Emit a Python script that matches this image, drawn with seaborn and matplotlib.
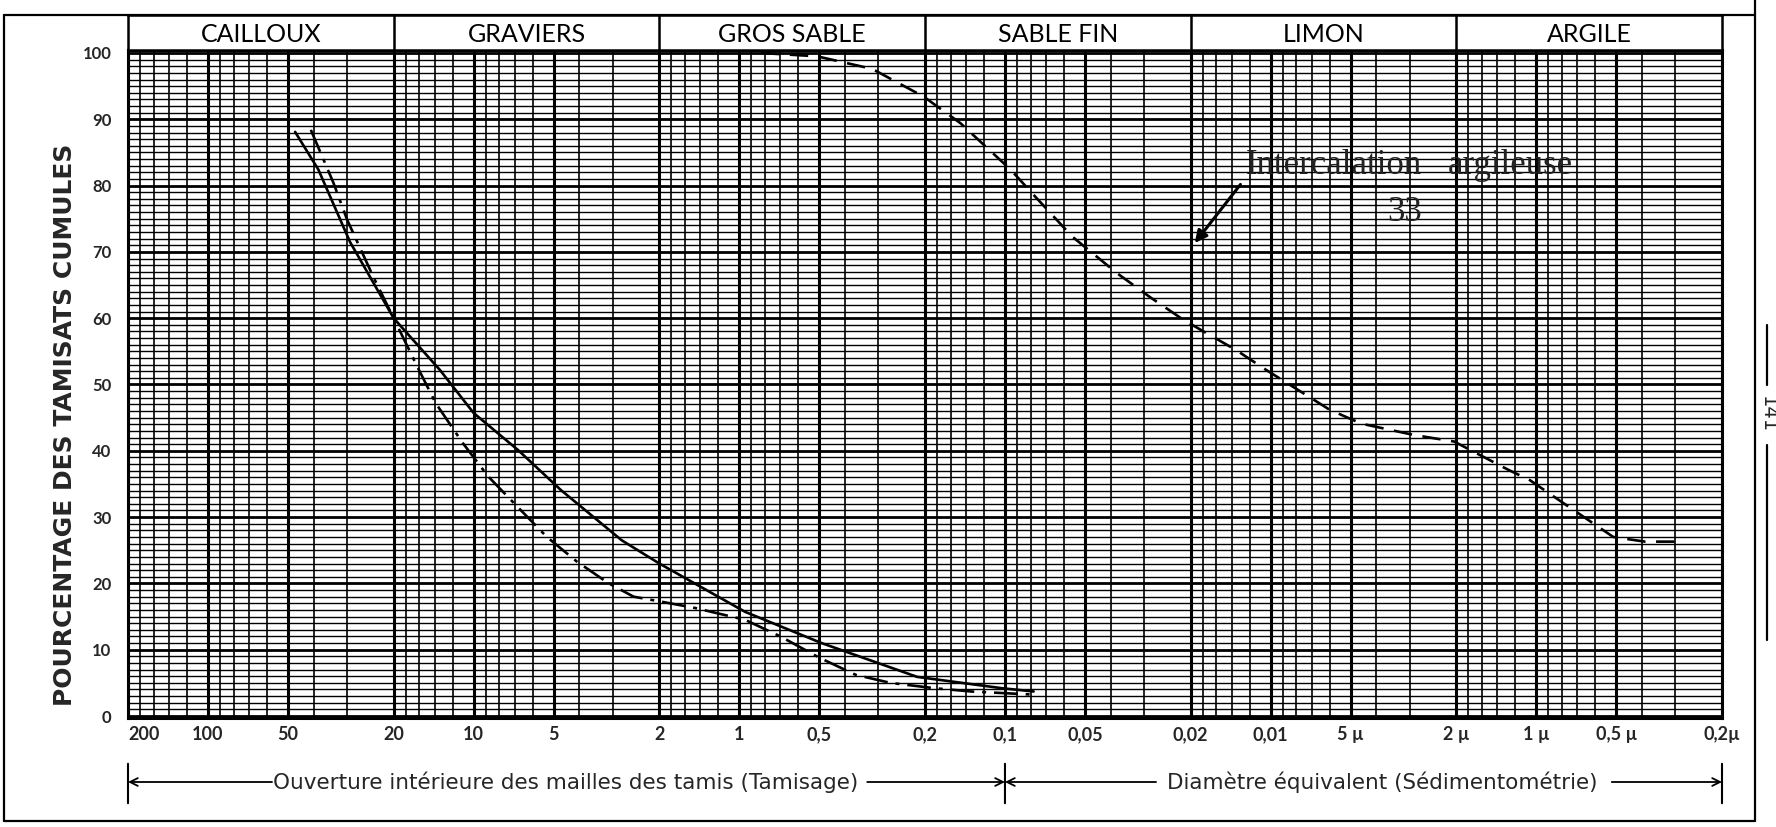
import matplotlib
matplotlib.use("Agg")
import matplotlib.pyplot as plt
import seaborn as sns
import pandas as pd
from matplotlib.lines import Line2D
from matplotlib.ticker import NullFormatter

# classes granulométriques (bandeau du haut), bornes en mm
classes = ["CAILLOUX", "GRAVIERS", "GROS SABLE", "SABLE FIN", "LIMON", "ARGILE"]
class_bounds = [200, 20, 2, 0.2, 0.02, 0.002, 0.0002]

# graduations de l'axe des diamètres (mm)
x_ticks = [200, 100, 50, 20, 10, 5, 2, 1, 0.5, 0.2, 0.1, 0.05, 0.02, 0.01,
           0.005, 0.002, 0.001, 0.0005, 0.0002]
x_labels = ["200", "100", "50", "20", "10", "5", "2", "1", "0,5", "0,2", "0,1",
            "0,05", "0,02", "0,01", "5 µ", "2 µ", "1 µ", "0,5 µ", "0,2µ"]
y_ticks = [0, 10, 20, 30, 40, 50, 60, 70, 80, 90, 100]

# courbe en trait plein
solid_d = [47, 38.4, 29.2, 20, 13.4, 10.0, 6.8, 4.7, 2.77, 2.0, 0.95, 0.49,
           0.214, 0.103, 0.078]
solid_p = [88.1, 82.4, 71.5, 60.0, 52.2, 45.7, 40.1, 34.1, 26.5, 23.0, 15.7,
           11.0, 5.9, 4.2, 3.7]

# courbe en trait mixte
dashdot_d = [41, 33.7, 29.9, 23.9, 20, 16.3, 13.9, 11.0, 8.8, 6.78, 5.3, 4.09,
             3.1, 2.5, 2.0, 1.47, 0.95, 0.70, 0.50, 0.364, 0.270, 0.185, 0.134,
             0.076]
dashdot_p = [88.4, 80.4, 74.8, 66.3, 60.0, 52.7, 47.2, 41.2, 36.1, 31.4, 27.0,
             23.3, 20.0, 18.0, 17.3, 16.3, 14.5, 12.0, 8.8, 6.2, 5.0, 4.2, 3.7,
             3.2]

# intercalation argileuse 33 (tirets)
dashed_d = [0.83, 0.51, 0.316, 0.202, 0.147, 0.0952, 0.0768, 0.0558, 0.0379,
            0.0285, 0.0212, 0.0135, 0.0104, 0.0060, 0.00456, 0.0029, 0.00204,
            0.00127, 0.00106, 0.00079, 0.000513, 0.00039, 0.00029]
dashed_p = [100, 99.5, 97.6, 93.4, 89.4, 82.4, 78.3, 72.3, 66.8, 63.2, 59.7,
            55.2, 52.2, 46.2, 44.1, 42.4, 41.4, 37.1, 35.6, 32.1, 27.0, 26.3,
            26.3]


def main():
    sns.set_style("white")
    plt.rcParams["font.family"] = ["Lato", "DejaVu Sans"]

    W, H = 1776, 827
    fig = plt.figure(figsize=(W / 100, H / 100), dpi=100)

    left, right, top, bottom = 128, 1722, 50, 718
    ax = fig.add_axes([left / W, 1 - bottom / H, (right - left) / W, (bottom - top) / H])
    hax = fig.add_axes([left / W, 1 - top / H, (right - left) / W, 35 / H])

    # grille
    ax.set_xscale("log")
    ax.set_xlim(class_bounds[0], class_bounds[-1])
    ax.set_ylim(-0.3, 100.45)
    minor_x = [m * 10.0 ** e for e in range(-4, 3)
               for m in (1.2, 1.4, 1.6, 1.8, 3, 4, 6, 7, 8, 9)
               if 0.0002 <= m * 10.0 ** e <= 200]

    # courbes
    curves = [
        (solid_d, solid_p, "-"),
        (dashdot_d, dashdot_p, (0, (9, 3, 1.5, 3))),
        (dashed_d, dashed_p, (0, (7, 4))),
    ]
    for d, p, ls in curves:
        df = pd.DataFrame({"d": d, "p": p})
        sns.lineplot(data=df, x="d", y="p", ax=ax, color="black", lw=1.9,
                     linestyle=ls, sort=False, legend=False)

    ax.set_xlim(class_bounds[0], class_bounds[-1])
    ax.set_xticks(x_ticks)
    ax.set_xticks(minor_x, minor=True)
    ax.set_xticklabels(x_labels)
    ax.xaxis.set_minor_formatter(NullFormatter())
    ax.set_yticks(y_ticks)
    ax.set_yticks(range(0, 101), minor=True)
    ax.yaxis.set_minor_formatter(NullFormatter())
    ax.grid(which="major", axis="x", color="black", lw=2.2)
    ax.grid(which="minor", axis="x", color="black", lw=1.2)
    ax.grid(which="major", axis="y", color="black", lw=2.0)
    ax.grid(which="minor", axis="y", color="black", lw=1.0)
    ax.set_axisbelow(True)
    ax.tick_params(which="both", length=0)
    ax.tick_params(axis="x", pad=6, labelsize=13)
    ax.tick_params(axis="y", pad=12, labelsize=12)
    for lab in ax.get_xticklabels() + ax.get_yticklabels():
        lab.set_fontweight("bold")
    ax.get_xticklabels()[0].set_horizontalalignment("left")
    for sp in ax.spines.values():
        sp.set_color("black")
        sp.set_linewidth(2.2)
    ax.set_xlabel("")
    ax.set_ylabel("")

    # annotation
    serif = dict(family="Liberation Serif", fontsize=25, va="center",
                 color="#222222")
    ax.text(0.01236, 83.0, "Intercalation", ha="left", **serif)
    ax.text(0.00215, 83.0, "argileuse", ha="left", **serif)
    ax.text(0.00313, 76.0, "33", ha="center", **serif)
    ax.annotate("", xy=(0.0196, 71.0), xytext=(0.0128, 80.5),
                arrowprops=dict(arrowstyle="-|>", color="black", lw=2.2,
                                mutation_scale=18))

    # bandeau des classes
    hax.set_xscale("log")
    hax.set_xlim(class_bounds[0], class_bounds[-1])
    hax.set_ylim(0, 1)
    hax.set_xticks([])
    hax.set_yticks([])
    for b in class_bounds[1:-1]:
        hax.axvline(b, color="black", lw=1.8)
    for name, a, b in zip(classes, class_bounds[:-1], class_bounds[1:]):
        hax.text((a * b) ** 0.5, 0.45, name, ha="center", va="center",
                 fontsize=18, color="black")
    for sp in hax.spines.values():
        sp.set_color("black")
        sp.set_linewidth(1.8)

    # titre de l'axe vertical
    fig.text(65 / W, 1 - 425 / H, "POURCENTAGE DES TAMISATS CUMULES",
             family="DejaVu Sans", fontweight="bold", fontsize=18,
             rotation=90, ha="center", va="center")

    # flèches du bas
    yc = 1 - 782 / H
    y0, y1 = 1 - 806 / H, 1 - 761 / H
    for xb in (200, 0.1, 0.0002):
        ax.annotate("", xy=(xb, y0), xytext=(xb, y1),
                    xycoords=("data", "figure fraction"),
                    textcoords=("data", "figure fraction"),
                    arrowprops=dict(arrowstyle="-", color="black", lw=1.5))
    arrows = [(57.4, 200), (0.33, 0.1), (0.027, 0.1), (0.00052, 0.0002)]
    for xs, xe in arrows:
        ax.annotate("", xy=(xe, yc), xytext=(xs, yc),
                    xycoords=("data", "figure fraction"),
                    textcoords=("data", "figure fraction"),
                    arrowprops=dict(arrowstyle="->", color="black", lw=1.3,
                                    shrinkA=0, shrinkB=0, mutation_scale=14))
    ax.annotate("Ouverture intérieure des mailles des tamis (Tamisage)",
                xy=(4.5, yc), xycoords=("data", "figure fraction"),
                ha="center", va="center", family="DejaVu Sans", fontsize=15.5)
    ax.annotate("Diamètre équivalent (Sédimentométrie)",
                xy=(0.0038, yc), xycoords=("data", "figure fraction"),
                ha="center", va="center", family="DejaVu Sans", fontsize=15.5)

    # cadre de la planche et numéro de page
    frame = [((4, 4), (15, 821)), ((4, 1755), (821, 821)), ((1755, 1755), (0, 821)),
             ((4, 1755), (15, 15)), ((1767, 1767), (325, 385)),
             ((1767, 1767), (445, 640))]
    for xs, ys in frame:
        fig.add_artist(Line2D([x / W for x in xs], [1 - y / H for y in ys],
                              color="black", lw=1.6))
    fig.text(1767 / W, 1 - 415 / H, "141", rotation=-90, ha="center",
             va="center", fontsize=14, family="DejaVu Sans")

    fig.savefig("out.png", dpi=100)
    plt.close(fig)


if __name__ == "__main__":
    main()
